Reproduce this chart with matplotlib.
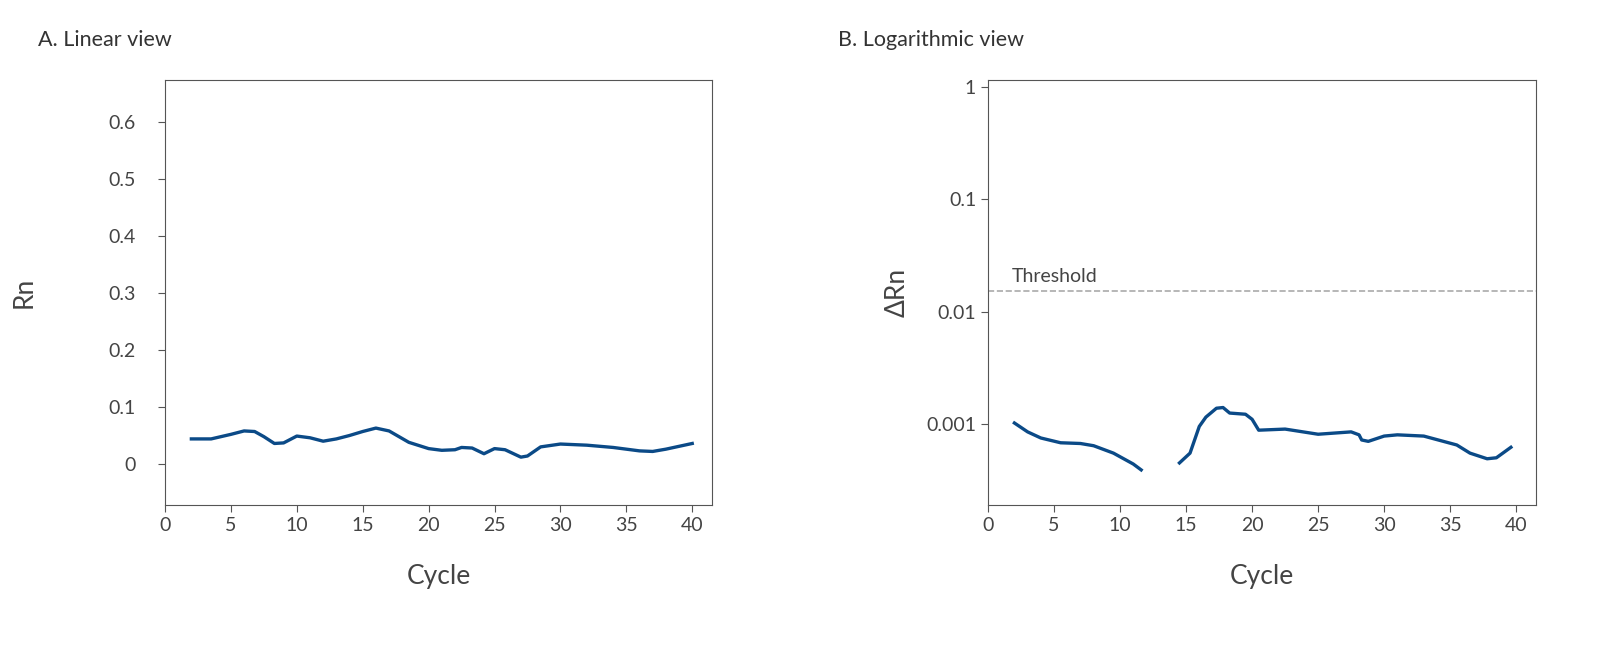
import matplotlib
matplotlib.use("Agg")
import matplotlib.pyplot as plt

plt.rcParams["font.family"] = "Lato"

lin_x = [2, 3.5, 5, 6, 6.8, 7.5, 8.3, 9, 10, 11, 12, 13, 14, 15, 16, 17, 18.5, 20, 21, 22, 22.5, 23.3, 24.2, 25, 25.8, 27, 27.5, 28.5, 30, 32, 34, 36, 37, 38, 40]
lin_y = [0.044, 0.044, 0.052, 0.058, 0.057, 0.048, 0.036, 0.037, 0.049, 0.046, 0.040, 0.044, 0.050, 0.057, 0.063, 0.058, 0.038, 0.027, 0.024, 0.025, 0.029, 0.028, 0.018, 0.027, 0.025, 0.012, 0.014, 0.030, 0.035, 0.033, 0.029, 0.023, 0.022, 0.026, 0.036]

log_x1 = [2, 3, 4, 5.5, 7, 8, 9.5, 11, 11.6]
log_y1 = [0.00102, 0.00085, 0.00075, 0.00068, 0.00067, 0.00064, 0.00055, 0.00044, 0.00039]
log_x2 = [14.5, 15.3, 16, 16.5, 17.3, 17.8, 18.3, 19.5, 20, 20.5, 22.5, 25, 27.5, 28.1, 28.3, 28.8, 30, 31, 33, 35.5, 36.5, 37.8, 38.5, 39.6]
log_y2 = [0.00045, 0.00055, 0.00095, 0.00115, 0.00138, 0.0014, 0.00125, 0.00122, 0.0011, 0.00088, 0.0009, 0.00081, 0.00085, 0.0008, 0.00072, 0.0007, 0.00078, 0.0008, 0.00078, 0.00065, 0.00055, 0.00049, 0.0005, 0.00062]
threshold = 0.0154

x_ticks = [0, 5, 10, 15, 20, 25, 30, 35, 40]
lin_ticks = [0, 0.1, 0.2, 0.3, 0.4, 0.5, 0.6]
lin_labels = ["0", "0.1", "0.2", "0.3", "0.4", "0.5", "0.6"]
log_ticks = [0.001, 0.01, 0.1, 1]
log_labels = ["0.001", "0.01", "0.1", "1"]

C = "#0b4a87"
G = "#444444"
fig = plt.figure(figsize=(16, 6.56), dpi=100)
ax1 = fig.add_axes([165/1600, 1-505/656, 547/1600, 425/656])
ax2 = fig.add_axes([988/1600, 1-505/656, 548/1600, 425/656])

for ax in (ax1, ax2):
    for s in ax.spines.values():
        s.set_color("#555555")
    ax.tick_params(colors=G, labelsize=14, length=5, color="#555555")
    ax.set_xlim(0, 41.5)
    ax.set_xticks(x_ticks)
    ax.set_xlabel("Cycle", fontsize=19, color=G, labelpad=22)

ax1.plot(lin_x, lin_y, color=C, lw=2.4)
ax1.set_ylim(-0.072, 0.674)
ax1.set_yticks(lin_ticks)
ax1.set_yticklabels(lin_labels)
ax1.set_ylabel("Rn", fontsize=19, color=G, labelpad=52)
ax1.tick_params(axis="y", pad=16)
fig.text(38/1600, 1-40/656, "A. Linear view", fontsize=15.5, color="#333333", va="center")

ax2.set_yscale("log")
ax2.plot(log_x1, log_y1, color=C, lw=2.4)
ax2.plot(log_x2, log_y2, color=C, lw=2.4)
ax2.axhline(threshold, color="#aaaaaa", ls="--", lw=1.2)
ax2.text(1.8, threshold*1.12, "Threshold", fontsize=14, color=G, va="bottom")
ax2.set_ylim(1.9e-4, 1.15)
ax2.set_yticks(log_ticks)
ax2.set_yticklabels(log_labels)
ax2.minorticks_off()
ax2.set_ylabel("ΔRn", fontsize=19, color=G, labelpad=12)
fig.text(838/1600, 1-40/656, "B. Logarithmic view", fontsize=15.5, color="#333333", va="center")

fig.savefig("out.png", dpi=100)
